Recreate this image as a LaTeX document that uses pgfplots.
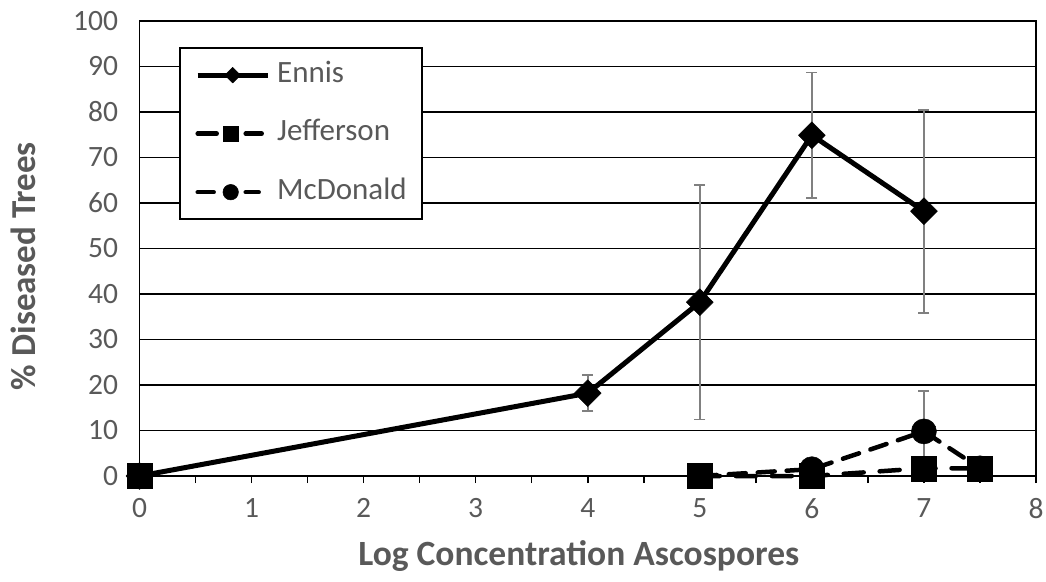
\documentclass[border=0pt]{standalone}
\usepackage{fontspec}
\setmainfont{Carlito}
\usepackage{pgfplots}
\pgfplotsset{compat=1.18}
\definecolor{txtgrey}{HTML}{595959}
\definecolor{errgrey}{HTML}{808080}
\begin{document}
\begin{tikzpicture}
\useasboundingbox (-139.5pt,-105pt) rectangle (906.5pt,476pt);
\begin{axis}[
  scale only axis,
  width=896.5pt, height=455pt,
  xmin=0, xmax=8, ymin=0, ymax=100,
  xtick={0,1,...,8},
  minor xtick={0.5,1.5,...,7.5},
  ytick={0,10,...,100},
  x tick label style={font=\fontsize{29.5}{33}\selectfont, text=txtgrey, yshift=-12pt},
  y tick label style={font=\fontsize{29.5}{33}\selectfont, text=txtgrey, xshift=-11pt},
  /pgf/number format/assume math mode=true,
  tick align=outside,
  xtick pos=bottom, ytick pos=left,
  major tick length=7pt, minor tick length=7pt,
  xtick style={black, line width=1.5pt},
  minor tick style={black, line width=1.5pt},
  ytick style={draw=none},
  ymajorgrids,
  major grid style={black, line width=1.3pt},
  axis line style={black, line width=1.6pt},
  xlabel={Log Concentration Ascospores},
  ylabel={\% Diseased Trees},
  xlabel style={at={(axis description cs:0.490,-0.1956)}, anchor=base, font=\fontsize{35.5}{40}\selectfont\bfseries, text=txtgrey},
  ylabel style={at={(axis description cs:-0.1155,0.4615)}, anchor=base, font=\fontsize{35}{40}\selectfont\bfseries, text=txtgrey},
  legend style={at={(axis description cs:0.044,0.943)}, anchor=north west,
    draw=black, line width=2.5pt, inner xsep=15pt, inner ysep=12pt,
    font=\fontsize{31}{35}\selectfont, text=txtgrey,
    row sep=28.5pt,
    nodes={inner xsep=0pt, inner ysep=2pt, text height=20pt, text depth=6pt},
    /tikz/every odd column/.append style={column sep=7pt}},
  legend cell align=left,
  unbounded coords=jump,
  clip=false,
]
% Ennis
\addplot[black, line width=5pt, line join=round, mark=square*, mark size=9.5pt,
  mark options={solid, rotate=45, line width=0.5pt},
  legend image code/.code={\draw[mark repeat=2, mark phase=2, every mark/.append style={scale=0.58}] plot coordinates {(3pt,0pt) (38pt,0pt) (73pt,0pt)};},
  error bars/.cd, y dir=both, y explicit,
  error bar style={errgrey, line width=1.8pt, solid},
  error mark options={errgrey, line width=1.8pt, mark size=5.5pt, rotate=90}]
  coordinates {
  (0,0) +- (0,0)
  (4,18.2) +- (0,4.0)
  (5,38.2) +- (0,25.8)
  (6,74.9) +- (0,13.8)
  (7,58.2) +- (0,22.3)
};
\addlegendentry{Ennis}
% Jefferson
\addplot[black, line width=4.5pt, line cap=round, dash pattern=on 20pt off 16pt,
  mark=square*, mark size=12.5pt, mark options={solid, line width=0.5pt},
  legend image code/.code={
    \draw[dash pattern=on 19pt off 29pt on 16pt off 60pt] (3pt,0pt) -- (70pt,0pt);
    \draw[only marks, every mark/.append style={scale=0.62}] plot coordinates {(36pt,0pt)};}]
  coordinates {
  (0,0) (4,nan) (5,0) (6,0) (7,1.7) (7.5,1.7)
};
\addlegendentry{Jefferson}
% McDonald
\addplot[black, line width=4.5pt, line cap=round, dash pattern=on 17pt off 12pt,
  mark=*, mark size=12.5pt, mark options={solid, line width=0.5pt},
  legend image code/.code={
    \draw[dash pattern=on 16pt off 32pt on 13pt off 60pt] (3pt,0pt) -- (70pt,0pt);
    \draw[only marks, every mark/.append style={scale=0.62}] plot coordinates {(36pt,0pt)};},
  error bars/.cd, y dir=both, y explicit,
  error bar style={errgrey, line width=1.8pt, solid},
  error mark options={errgrey, line width=1.8pt, mark size=5.5pt, rotate=90}]
  coordinates {
  (0,0) +- (0,0)
  (4,nan) +- (0,0)
  (5,0) +- (0,0)
  (6,1.5) +- (0,0)
  (7,9.8) +- (0,8.9)
  (7.5,1.7) +- (0,0)
};
\addlegendentry{McDonald}
% Jefferson markers on top
\addplot[forget plot, only marks, black, mark=square*, mark size=12.5pt, mark options={solid, line width=0.5pt}]
  coordinates {(0,0) (5,0) (6,0) (7,1.7) (7.5,1.7)};
\end{axis}
\end{tikzpicture}
\end{document}
